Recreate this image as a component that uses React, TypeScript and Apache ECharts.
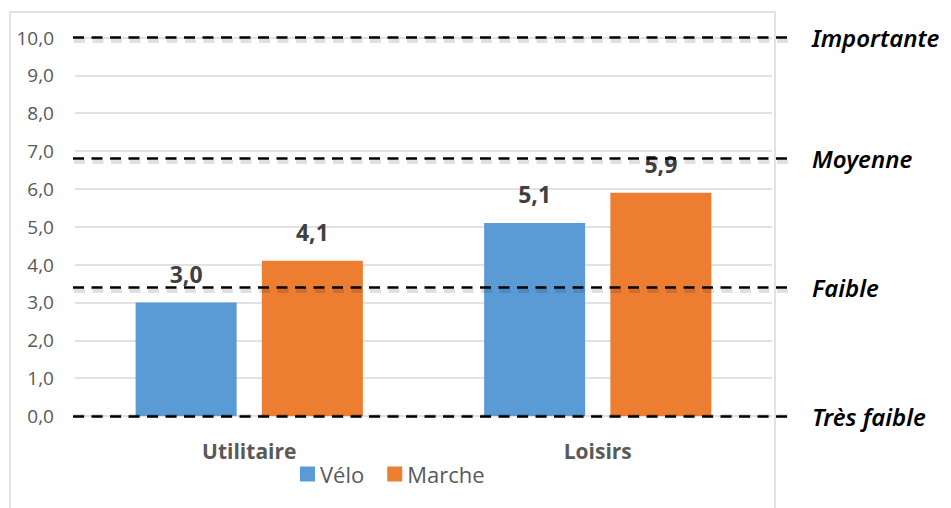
import React, { useEffect, useRef } from "react";
import * as echarts from "echarts";

const categories = ["Utilitaire", "Loisirs"];
const veloValues = [3.0, 5.1];
const marcheValues = [4.1, 5.9];
const seriesNames = ["Vélo", "Marche"];
const thresholdNames = ["Importante", "Moyenne", "Faible", "Très faible"];
const thresholdValues = [10.0, 6.8, 3.4, -0.04];

const fmt = (v: number) => v.toFixed(1).replace(".", ",");

export default function App() {
  const ref = useRef<HTMLDivElement>(null);
  useEffect(() => {
    if (!ref.current) return;
    const chart = echarts.init(ref.current, undefined, { renderer: "svg" });
    const font = "'Open Sans', 'Liberation Sans', sans-serif";
    const shadowOffset = 0.08;
    const markData = thresholdValues.map((v, i) => [
      { yAxis: v, x: 73, name: thresholdNames[i] },
      { yAxis: v, x: 793 },
    ]);
    const shadowData = thresholdValues.map((v) => [
      { yAxis: v - shadowOffset, x: 74 },
      { yAxis: v - shadowOffset, x: 794 },
    ]);
    const valueLabel = {
      show: true,
      position: "top",
      distance: 17,
      fontFamily: font,
      fontSize: 23,
      fontWeight: "bold",
      color: "#404040",
      formatter: (p: any) => fmt(p.value),
    };
    chart.setOption({
      animation: false,
      backgroundColor: "#ffffff",
      graphic: [
        {
          type: "rect",
          shape: { x: 10, y: 12, width: 765, height: 520 },
          style: { fill: "none", stroke: "#d9d9d9", lineWidth: 1.5 },
          silent: true,
          z: -10,
        },
      ],
      grid: { left: 75, right: 179, top: 37.5, bottom: 92 },
      legend: {
        data: seriesNames,
        left: 295,
        top: 458,
        itemWidth: 15,
        itemHeight: 15,
        itemGap: 23,
        icon: "rect",
        textStyle: { fontFamily: font, fontSize: 22, color: "#595959" },
      },
      xAxis: {
        type: "category",
        data: categories,
        axisLine: { show: false },
        axisTick: { show: false },
        axisLabel: {
          margin: 24,
          fontFamily: font,
          fontSize: 21,
          fontWeight: "bold",
          color: "#595959",
        },
      },
      yAxis: {
        type: "value",
        min: 0,
        max: 10,
        interval: 1,
        axisLine: { show: false },
        axisTick: { show: false },
        splitLine: { lineStyle: { color: "#d9d9d9", width: 1.5 } },
        axisLabel: {
          margin: 21,
          fontFamily: font,
          fontSize: 19,
          color: "#595959",
          formatter: (v: number) => fmt(v),
        },
      },
      series: [
        {
          name: seriesNames[0],
          type: "bar",
          data: veloValues,
          barWidth: 101,
          barGap: "25%",
          clip: false,
          itemStyle: { color: "#5B9BD5" },
          label: valueLabel,
          markLine: {
            silent: true,
            symbol: ["none", "none"],
            precision: 2,
            z: 5,
            lineStyle: {
              color: "#000000",
              width: 2.5,
              type: [11, 7.5],
            },
            label: {
              show: true,
              position: "end",
              distance: 19,
              padding: [0, 0, 8, 0],
              formatter: (p: any) => p.name,
              fontFamily: "'Noto Sans', 'Open Sans', sans-serif",
              fontStyle: "italic",
              fontWeight: 600,
              fontSize: 24,
              color: "#000000",
            },
            emphasis: { disabled: true },
            data: markData,
          },
        },
        {
          name: seriesNames[1],
          type: "bar",
          data: marcheValues,
          barWidth: 101,
          clip: false,
          itemStyle: { color: "#ED7D31" },
          label: valueLabel,
          markLine: {
            silent: true,
            symbol: ["none", "none"],
            precision: 2,
            z: 4,
            lineStyle: {
              color: "rgba(0,0,0,0.12)",
              width: 4,
              type: [11, 7.5],
            },
            label: { show: false },
            emphasis: { disabled: true },
            data: shadowData,
          },
        },
      ],
    });
    return () => chart.dispose();
  }, []);
  return <div ref={ref} style={{ width: 951, height: 508, position: "fixed", left: 0, top: 0 }} />;
}
